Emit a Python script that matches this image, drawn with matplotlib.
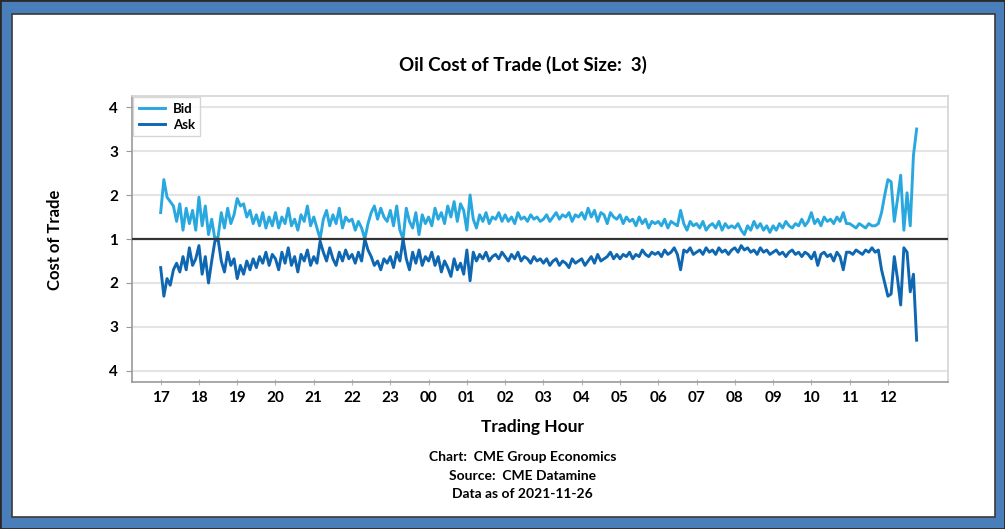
import numpy as np
import matplotlib
matplotlib.use("Agg")
import matplotlib.pyplot as plt
from matplotlib.patches import Rectangle

plt.rcParams["font.family"] = ["Lato", "DejaVu Sans"]
plt.rcParams["font.weight"] = "bold"

# 5-minute samples, 17:00 -> 12:45 (one row per trading hour)
bid = [
    1.60, 2.35, 1.95, 1.85, 1.75, 1.40, 1.80, 1.20, 1.70, 1.35, 1.65, 1.20,  # 17
    1.95, 1.30, 1.75, 1.10, 1.45, 1.00, 1.05, 1.60, 1.25, 1.70, 1.35, 1.55,  # 18
    1.92, 1.75, 1.80, 1.50, 1.65, 1.35, 1.55, 1.30, 1.60, 1.25, 1.50, 1.30,  # 19
    1.60, 1.25, 1.50, 1.35, 1.70, 1.30, 1.45, 1.20, 1.55, 1.40, 1.75, 1.30,  # 20
    1.50, 1.25, 1.00, 1.45, 1.65, 1.30, 1.55, 1.35, 1.70, 1.25, 1.50, 1.40,  # 21
    1.45, 1.20, 1.40, 1.25, 1.00, 1.35, 1.60, 1.75, 1.45, 1.70, 1.50, 1.40,  # 22
    1.65, 1.30, 1.75, 1.20, 1.00, 1.70, 1.40, 1.25, 1.60, 1.10, 1.55, 1.35,  # 23
    1.50, 1.30, 1.70, 1.45, 1.60, 1.35, 1.75, 1.50, 1.85, 1.40, 1.80, 1.65,  # 00
    1.20, 2.00, 1.45, 1.25, 1.55, 1.40, 1.60, 1.35, 1.50, 1.45, 1.60, 1.40,  # 01
    1.55, 1.40, 1.50, 1.35, 1.60, 1.45, 1.50, 1.40, 1.55, 1.45, 1.50, 1.40,  # 02
    1.45, 1.55, 1.40, 1.50, 1.60, 1.45, 1.55, 1.50, 1.60, 1.40, 1.55, 1.50,  # 03
    1.60, 1.45, 1.70, 1.50, 1.65, 1.40, 1.60, 1.55, 1.35, 1.60, 1.50, 1.45,  # 04
    1.55, 1.35, 1.50, 1.40, 1.45, 1.30, 1.50, 1.35, 1.45, 1.25, 1.40, 1.35,  # 05
    1.40, 1.30, 1.45, 1.25, 1.40, 1.35, 1.30, 1.65, 1.35, 1.20, 1.40, 1.30,  # 06
    1.35, 1.25, 1.40, 1.20, 1.30, 1.35, 1.25, 1.40, 1.20, 1.35, 1.25, 1.30,  # 07
    1.25, 1.35, 1.20, 1.10, 1.30, 1.20, 1.40, 1.25, 1.35, 1.20, 1.30, 1.15,  # 08
    1.30, 1.20, 1.35, 1.25, 1.40, 1.30, 1.25, 1.35, 1.30, 1.45, 1.30, 1.40,  # 09
    1.60, 1.35, 1.45, 1.30, 1.50, 1.40, 1.45, 1.35, 1.50, 1.40, 1.60, 1.35,  # 10
    1.35, 1.30, 1.25, 1.35, 1.30, 1.25, 1.35, 1.30, 1.30, 1.35, 1.60, 2.00,  # 11
    2.35, 2.30, 1.40, 1.90, 2.45, 1.20, 2.05, 1.30, 2.90, 3.50,              # 12
]
ask = [
    1.65, 2.30, 1.90, 2.05, 1.70, 1.55, 1.75, 1.40, 1.70, 1.20, 1.60, 1.45,  # 17
    1.15, 1.80, 1.40, 2.00, 1.50, 1.05, 1.00, 1.50, 1.75, 1.30, 1.60, 1.45,  # 18
    1.90, 1.60, 1.80, 1.50, 1.70, 1.45, 1.65, 1.40, 1.55, 1.30, 1.60, 1.35,  # 19
    1.45, 1.70, 1.30, 1.55, 1.20, 1.60, 1.40, 1.75, 1.35, 1.50, 1.25, 1.60,  # 20
    1.40, 1.55, 1.05, 1.30, 1.50, 1.20, 1.45, 1.60, 1.30, 1.50, 1.25, 1.45,  # 21
    1.35, 1.55, 1.30, 1.50, 1.00, 1.25, 1.40, 1.60, 1.50, 1.70, 1.45, 1.55,  # 22
    1.40, 1.65, 1.30, 1.50, 1.00, 1.45, 1.70, 1.30, 1.55, 1.25, 1.60, 1.40,  # 23
    1.50, 1.30, 1.60, 1.40, 1.75, 1.50, 1.65, 1.85, 1.45, 1.70, 1.55, 1.80,  # 00
    1.25, 1.95, 1.30, 1.50, 1.35, 1.45, 1.30, 1.50, 1.40, 1.35, 1.45, 1.30,  # 01
    1.40, 1.50, 1.35, 1.45, 1.30, 1.50, 1.40, 1.45, 1.55, 1.40, 1.50, 1.45,  # 02
    1.55, 1.45, 1.60, 1.50, 1.45, 1.60, 1.50, 1.55, 1.65, 1.45, 1.55, 1.50,  # 03
    1.45, 1.60, 1.50, 1.40, 1.55, 1.35, 1.50, 1.45, 1.40, 1.30, 1.45, 1.35,  # 04
    1.45, 1.35, 1.40, 1.30, 1.45, 1.35, 1.40, 1.25, 1.35, 1.40, 1.30, 1.35,  # 05
    1.30, 1.40, 1.25, 1.35, 1.30, 1.20, 1.35, 1.70, 1.25, 1.30, 1.20, 1.35,  # 06
    1.30, 1.25, 1.35, 1.20, 1.30, 1.25, 1.35, 1.20, 1.30, 1.25, 1.35, 1.25,  # 07
    1.20, 1.30, 1.15, 1.25, 1.20, 1.30, 1.25, 1.35, 1.20, 1.30, 1.25, 1.35,  # 08
    1.30, 1.25, 1.35, 1.30, 1.40, 1.30, 1.25, 1.35, 1.30, 1.40, 1.30, 1.35,  # 09
    1.45, 1.30, 1.60, 1.35, 1.30, 1.40, 1.35, 1.50, 1.30, 1.40, 1.70, 1.30,  # 10
    1.30, 1.35, 1.25, 1.30, 1.35, 1.25, 1.30, 1.20, 1.30, 1.25, 1.70, 2.00,  # 11
    2.30, 2.25, 1.40, 1.90, 2.50, 1.20, 1.30, 2.20, 1.80, 3.30,              # 12
]
hour_labels = ["17", "18", "19", "20", "21", "22", "23", "00", "01", "02",
               "03", "04", "05", "06", "07", "08", "09", "10", "11", "12"]
ytick_labels = ["4", "3", "2", "1", "2", "3", "4"]

BID_C = "#29a8e0"
ASK_C = "#0f67b1"

fig = plt.figure(figsize=(10.05, 5.29), dpi=100)

# blue frame round the whole picture
fig.patches.append(Rectangle((0, 0), 1, 1, transform=fig.transFigure,
                             facecolor="#4a7ebb", edgecolor="#2a2a2a", lw=2, zorder=-5))
fig.patches.append(Rectangle((12 / 1005, 12 / 529), 983 / 1005, 503 / 529,
                             transform=fig.transFigure, facecolor="white",
                             edgecolor="#3a3a3a", lw=1.2, zorder=-4))

ax = fig.add_axes([0.1313, 0.2779, 0.8120, 0.5406])
t = np.arange(len(bid)) * 5 / 60
ax.plot(t, bid, color=BID_C, lw=2.1, label="Bid")
ax.plot(t, 2 - np.array(ask), color=ASK_C, lw=2.1, label="Ask")
ax.axhline(1, color="#333333", lw=1.6, zorder=3)

ax.set_xlim(-0.75, 20.57)
ax.set_ylim(-2.25, 4.25)
ax.set_yticks([4, 3, 2, 1, 0, -1, -2])
ax.set_yticklabels(ytick_labels)
ax.set_xticks(range(len(hour_labels)))
ax.set_xticklabels(hour_labels)
ax.tick_params(axis="y", length=4, color="#999999", labelsize=11, pad=6)
ax.tick_params(axis="x", direction="inout", length=5, color="#bbbbbb", labelsize=11, pad=4)
ax.grid(axis="y", color="#e4e4e4", lw=1.5)
ax.set_axisbelow(True)
for s in ["left", "bottom"]:
    ax.spines[s].set_color("#999999")
    ax.spines[s].set_linewidth(1.2)
for s in ["top", "right"]:
    ax.spines[s].set_color("#d4d4d4")
    ax.spines[s].set_linewidth(1.2)

leg = ax.legend(loc="upper left", fontsize=9.5, handlelength=2.0, handletextpad=0.6,
                borderpad=0.4, labelspacing=0.3, borderaxespad=0.1, fancybox=False)
leg.get_frame().set_edgecolor("#cccccc")

fig.text(0.520, 0.877, "Oil Cost of Trade (Lot Size:  3)", ha="center", va="center",
         fontsize=13.5, fontweight="bold")
fig.text(0.055, 0.546, "Cost of Trade", ha="center", va="center", rotation=90,
         fontsize=12, fontweight="bold")
fig.text(0.530, 0.193, "Trading Hour", ha="center", va="center",
         fontsize=12.5, fontweight="bold")
fig.text(0.520, 0.136, "Chart:  CME Group Economics", ha="center", va="center", fontsize=10)
fig.text(0.520, 0.100, "Source:  CME Datamine", ha="center", va="center", fontsize=10)
fig.text(0.520, 0.066, "Data as of 2021-11-26", ha="center", va="center", fontsize=10)

fig.savefig("out.png", dpi=100)
